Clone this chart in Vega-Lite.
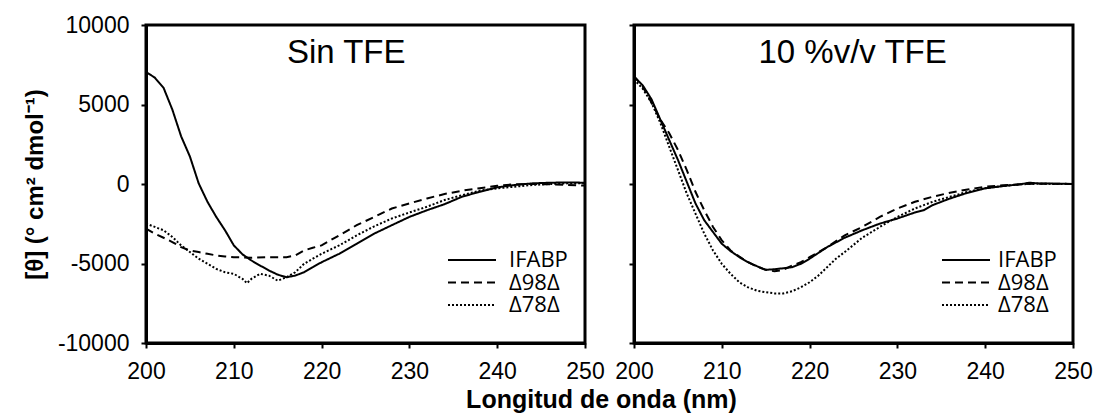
{
  "$schema": "https://vega.github.io/schema/vega-lite/v6.json",
  "background": "white",
  "padding": {"left": 21, "top": 12, "right": 5, "bottom": 5},
  "bounds": "flush",
  "spacing": 49,
  "config": {
    "view": {"stroke": "black", "strokeWidth": 3},
    "axis": {
      "domainColor": "black", "domainWidth": 3,
      "tickColor": "black", "tickWidth": 2, "tickSize": 5,
      "labelColor": "black", "labelFont": "Liberation Sans", "labelFontSize": 23,
      "labelPadding": 10,
      "titleFont": "Liberation Sans", "titleFontSize": 24, "titleColor": "black", "titleFontWeight": "bold",
      "grid": false, "labelFlush": false, "labelOverlap": false,
      "labelExpr": "datum.value + ''"
    },
    "axisY": {"labelPadding": 12},
    "axisX": {"labelPadding": 12},
    "legend": {
      "orient": "none", "title": null,
      "symbolType": "M-6,0H6", "symbolSize": 64, "symbolStrokeWidth": 2, "symbolStrokeColor": "black",
      "labelFont": "Open Sans", "labelFontSize": 22, "labelColor": "black",
      "rowPadding": 0.5
    }
  },
  "datasets": {
    "sin": [
      {"nm": 200, "theta": 7050, "serie": "IFABP"},
      {"nm": 201, "theta": 6690, "serie": "IFABP"},
      {"nm": 202, "theta": 6050, "serie": "IFABP"},
      {"nm": 203, "theta": 4680, "serie": "IFABP"},
      {"nm": 204, "theta": 3000, "serie": "IFABP"},
      {"nm": 205, "theta": 1730, "serie": "IFABP"},
      {"nm": 206, "theta": 40, "serie": "IFABP"},
      {"nm": 207, "theta": -1120, "serie": "IFABP"},
      {"nm": 208, "theta": -2070, "serie": "IFABP"},
      {"nm": 209, "theta": -2910, "serie": "IFABP"},
      {"nm": 210, "theta": -3860, "serie": "IFABP"},
      {"nm": 211, "theta": -4430, "serie": "IFABP"},
      {"nm": 212, "theta": -4810, "serie": "IFABP"},
      {"nm": 213, "theta": -5130, "serie": "IFABP"},
      {"nm": 214, "theta": -5440, "serie": "IFABP"},
      {"nm": 215, "theta": -5700, "serie": "IFABP"},
      {"nm": 216, "theta": -5865, "serie": "IFABP"},
      {"nm": 217, "theta": -5760, "serie": "IFABP"},
      {"nm": 218, "theta": -5550, "serie": "IFABP"},
      {"nm": 219, "theta": -5230, "serie": "IFABP"},
      {"nm": 220, "theta": -4920, "serie": "IFABP"},
      {"nm": 222, "theta": -4390, "serie": "IFABP"},
      {"nm": 224, "theta": -3760, "serie": "IFABP"},
      {"nm": 226, "theta": -3120, "serie": "IFABP"},
      {"nm": 228, "theta": -2590, "serie": "IFABP"},
      {"nm": 230, "theta": -2070, "serie": "IFABP"},
      {"nm": 232, "theta": -1650, "serie": "IFABP"},
      {"nm": 234, "theta": -1270, "serie": "IFABP"},
      {"nm": 236, "theta": -800, "serie": "IFABP"},
      {"nm": 238, "theta": -490, "serie": "IFABP"},
      {"nm": 240, "theta": -210, "serie": "IFABP"},
      {"nm": 242, "theta": -60, "serie": "IFABP"},
      {"nm": 244, "theta": 40, "serie": "IFABP"},
      {"nm": 246, "theta": 80, "serie": "IFABP"},
      {"nm": 248, "theta": 100, "serie": "IFABP"},
      {"nm": 250, "theta": 80, "serie": "IFABP"},
      {"nm": 200, "theta": -2800, "serie": "Δ98Δ"},
      {"nm": 201, "theta": -3120, "serie": "Δ98Δ"},
      {"nm": 202, "theta": -3380, "serie": "Δ98Δ"},
      {"nm": 203, "theta": -3650, "serie": "Δ98Δ"},
      {"nm": 204, "theta": -3970, "serie": "Δ98Δ"},
      {"nm": 205, "theta": -4180, "serie": "Δ98Δ"},
      {"nm": 206, "theta": -4280, "serie": "Δ98Δ"},
      {"nm": 207, "theta": -4390, "serie": "Δ98Δ"},
      {"nm": 208, "theta": -4490, "serie": "Δ98Δ"},
      {"nm": 209, "theta": -4560, "serie": "Δ98Δ"},
      {"nm": 210, "theta": -4600, "serie": "Δ98Δ"},
      {"nm": 212, "theta": -4640, "serie": "Δ98Δ"},
      {"nm": 214, "theta": -4600, "serie": "Δ98Δ"},
      {"nm": 216, "theta": -4600, "serie": "Δ98Δ"},
      {"nm": 217, "theta": -4490, "serie": "Δ98Δ"},
      {"nm": 218, "theta": -4180, "serie": "Δ98Δ"},
      {"nm": 219, "theta": -4010, "serie": "Δ98Δ"},
      {"nm": 220, "theta": -3860, "serie": "Δ98Δ"},
      {"nm": 222, "theta": -3230, "serie": "Δ98Δ"},
      {"nm": 224, "theta": -2590, "serie": "Δ98Δ"},
      {"nm": 226, "theta": -2070, "serie": "Δ98Δ"},
      {"nm": 228, "theta": -1540, "serie": "Δ98Δ"},
      {"nm": 230, "theta": -1220, "serie": "Δ98Δ"},
      {"nm": 232, "theta": -910, "serie": "Δ98Δ"},
      {"nm": 234, "theta": -630, "serie": "Δ98Δ"},
      {"nm": 236, "theta": -420, "serie": "Δ98Δ"},
      {"nm": 238, "theta": -270, "serie": "Δ98Δ"},
      {"nm": 240, "theta": -110, "serie": "Δ98Δ"},
      {"nm": 242, "theta": -20, "serie": "Δ98Δ"},
      {"nm": 244, "theta": 0, "serie": "Δ98Δ"},
      {"nm": 246, "theta": -20, "serie": "Δ98Δ"},
      {"nm": 248, "theta": -60, "serie": "Δ98Δ"},
      {"nm": 250, "theta": -100, "serie": "Δ98Δ"},
      {"nm": 200, "theta": -2490, "serie": "Δ78Δ"},
      {"nm": 201, "theta": -2700, "serie": "Δ78Δ"},
      {"nm": 202, "theta": -2910, "serie": "Δ78Δ"},
      {"nm": 203, "theta": -3330, "serie": "Δ78Δ"},
      {"nm": 204, "theta": -3860, "serie": "Δ78Δ"},
      {"nm": 205, "theta": -4280, "serie": "Δ78Δ"},
      {"nm": 206, "theta": -4700, "serie": "Δ78Δ"},
      {"nm": 207, "theta": -5020, "serie": "Δ78Δ"},
      {"nm": 208, "theta": -5340, "serie": "Δ78Δ"},
      {"nm": 209, "theta": -5550, "serie": "Δ78Δ"},
      {"nm": 210, "theta": -5650, "serie": "Δ78Δ"},
      {"nm": 211, "theta": -5970, "serie": "Δ78Δ"},
      {"nm": 211.5, "theta": -6240, "serie": "Δ78Δ"},
      {"nm": 212, "theta": -5970, "serie": "Δ78Δ"},
      {"nm": 213, "theta": -5650, "serie": "Δ78Δ"},
      {"nm": 214, "theta": -5760, "serie": "Δ78Δ"},
      {"nm": 215, "theta": -6080, "serie": "Δ78Δ"},
      {"nm": 216, "theta": -5865, "serie": "Δ78Δ"},
      {"nm": 217, "theta": -5550, "serie": "Δ78Δ"},
      {"nm": 218, "theta": -5020, "serie": "Δ78Δ"},
      {"nm": 219, "theta": -4700, "serie": "Δ78Δ"},
      {"nm": 220, "theta": -4390, "serie": "Δ78Δ"},
      {"nm": 222, "theta": -3860, "serie": "Δ78Δ"},
      {"nm": 224, "theta": -3230, "serie": "Δ78Δ"},
      {"nm": 226, "theta": -2660, "serie": "Δ78Δ"},
      {"nm": 228, "theta": -2170, "serie": "Δ78Δ"},
      {"nm": 230, "theta": -1790, "serie": "Δ78Δ"},
      {"nm": 232, "theta": -1430, "serie": "Δ78Δ"},
      {"nm": 234, "theta": -1010, "serie": "Δ78Δ"},
      {"nm": 236, "theta": -700, "serie": "Δ78Δ"},
      {"nm": 238, "theta": -420, "serie": "Δ78Δ"},
      {"nm": 240, "theta": -270, "serie": "Δ78Δ"},
      {"nm": 242, "theta": -170, "serie": "Δ78Δ"},
      {"nm": 244, "theta": -60, "serie": "Δ78Δ"},
      {"nm": 246, "theta": 0, "serie": "Δ78Δ"},
      {"nm": 248, "theta": 40, "serie": "Δ78Δ"},
      {"nm": 250, "theta": 40, "serie": "Δ78Δ"}
    ],
    "tfe": [
      {"nm": 200, "theta": 6750, "serie": "IFABP"},
      {"nm": 201, "theta": 6200, "serie": "IFABP"},
      {"nm": 202, "theta": 5320, "serie": "IFABP"},
      {"nm": 203, "theta": 4050, "serie": "IFABP"},
      {"nm": 204, "theta": 2780, "serie": "IFABP"},
      {"nm": 205, "theta": 1520, "serie": "IFABP"},
      {"nm": 206, "theta": 150, "serie": "IFABP"},
      {"nm": 207, "theta": -1220, "serie": "IFABP"},
      {"nm": 208, "theta": -2280, "serie": "IFABP"},
      {"nm": 209, "theta": -3020, "serie": "IFABP"},
      {"nm": 210, "theta": -3760, "serie": "IFABP"},
      {"nm": 211, "theta": -4220, "serie": "IFABP"},
      {"nm": 212, "theta": -4600, "serie": "IFABP"},
      {"nm": 213, "theta": -4920, "serie": "IFABP"},
      {"nm": 214, "theta": -5170, "serie": "IFABP"},
      {"nm": 215, "theta": -5400, "serie": "IFABP"},
      {"nm": 216, "theta": -5360, "serie": "IFABP"},
      {"nm": 217, "theta": -5300, "serie": "IFABP"},
      {"nm": 218, "theta": -5230, "serie": "IFABP"},
      {"nm": 219, "theta": -5020, "serie": "IFABP"},
      {"nm": 220, "theta": -4700, "serie": "IFABP"},
      {"nm": 222, "theta": -3970, "serie": "IFABP"},
      {"nm": 224, "theta": -3380, "serie": "IFABP"},
      {"nm": 226, "theta": -2910, "serie": "IFABP"},
      {"nm": 228, "theta": -2490, "serie": "IFABP"},
      {"nm": 230, "theta": -2170, "serie": "IFABP"},
      {"nm": 232, "theta": -1790, "serie": "IFABP"},
      {"nm": 233, "theta": -1650, "serie": "IFABP"},
      {"nm": 234, "theta": -1330, "serie": "IFABP"},
      {"nm": 236, "theta": -910, "serie": "IFABP"},
      {"nm": 238, "theta": -550, "serie": "IFABP"},
      {"nm": 240, "theta": -270, "serie": "IFABP"},
      {"nm": 242, "theta": -130, "serie": "IFABP"},
      {"nm": 244, "theta": -20, "serie": "IFABP"},
      {"nm": 245, "theta": 80, "serie": "IFABP"},
      {"nm": 246, "theta": 40, "serie": "IFABP"},
      {"nm": 248, "theta": 20, "serie": "IFABP"},
      {"nm": 250, "theta": 0, "serie": "IFABP"},
      {"nm": 200, "theta": 6790, "serie": "Δ98Δ"},
      {"nm": 201, "theta": 6120, "serie": "Δ98Δ"},
      {"nm": 202, "theta": 5110, "serie": "Δ98Δ"},
      {"nm": 203, "theta": 4050, "serie": "Δ98Δ"},
      {"nm": 204, "theta": 3210, "serie": "Δ98Δ"},
      {"nm": 205, "theta": 2150, "serie": "Δ98Δ"},
      {"nm": 206, "theta": 890, "serie": "Δ98Δ"},
      {"nm": 207, "theta": -490, "serie": "Δ98Δ"},
      {"nm": 208, "theta": -1650, "serie": "Δ98Δ"},
      {"nm": 209, "theta": -2700, "serie": "Δ98Δ"},
      {"nm": 210, "theta": -3540, "serie": "Δ98Δ"},
      {"nm": 211, "theta": -4180, "serie": "Δ98Δ"},
      {"nm": 212, "theta": -4560, "serie": "Δ98Δ"},
      {"nm": 213, "theta": -4920, "serie": "Δ98Δ"},
      {"nm": 214, "theta": -5190, "serie": "Δ98Δ"},
      {"nm": 215, "theta": -5400, "serie": "Δ98Δ"},
      {"nm": 216, "theta": -5490, "serie": "Δ98Δ"},
      {"nm": 217, "theta": -5400, "serie": "Δ98Δ"},
      {"nm": 218, "theta": -5130, "serie": "Δ98Δ"},
      {"nm": 219, "theta": -4920, "serie": "Δ98Δ"},
      {"nm": 220, "theta": -4600, "serie": "Δ98Δ"},
      {"nm": 222, "theta": -3970, "serie": "Δ98Δ"},
      {"nm": 224, "theta": -3230, "serie": "Δ98Δ"},
      {"nm": 226, "theta": -2700, "serie": "Δ98Δ"},
      {"nm": 228, "theta": -2070, "serie": "Δ98Δ"},
      {"nm": 230, "theta": -1540, "serie": "Δ98Δ"},
      {"nm": 232, "theta": -1120, "serie": "Δ98Δ"},
      {"nm": 234, "theta": -800, "serie": "Δ98Δ"},
      {"nm": 236, "theta": -550, "serie": "Δ98Δ"},
      {"nm": 238, "theta": -340, "serie": "Δ98Δ"},
      {"nm": 240, "theta": -170, "serie": "Δ98Δ"},
      {"nm": 242, "theta": -80, "serie": "Δ98Δ"},
      {"nm": 244, "theta": -20, "serie": "Δ98Δ"},
      {"nm": 246, "theta": 20, "serie": "Δ98Δ"},
      {"nm": 248, "theta": 20, "serie": "Δ98Δ"},
      {"nm": 250, "theta": 0, "serie": "Δ98Δ"},
      {"nm": 200, "theta": 6580, "serie": "Δ78Δ"},
      {"nm": 201, "theta": 5990, "serie": "Δ78Δ"},
      {"nm": 202, "theta": 5110, "serie": "Δ78Δ"},
      {"nm": 203, "theta": 3840, "serie": "Δ78Δ"},
      {"nm": 204, "theta": 2360, "serie": "Δ78Δ"},
      {"nm": 205, "theta": 890, "serie": "Δ78Δ"},
      {"nm": 206, "theta": -590, "serie": "Δ78Δ"},
      {"nm": 207, "theta": -1860, "serie": "Δ78Δ"},
      {"nm": 208, "theta": -3120, "serie": "Δ78Δ"},
      {"nm": 209, "theta": -4180, "serie": "Δ78Δ"},
      {"nm": 210, "theta": -5020, "serie": "Δ78Δ"},
      {"nm": 211, "theta": -5650, "serie": "Δ78Δ"},
      {"nm": 212, "theta": -6180, "serie": "Δ78Δ"},
      {"nm": 213, "theta": -6500, "serie": "Δ78Δ"},
      {"nm": 214, "theta": -6710, "serie": "Δ78Δ"},
      {"nm": 215, "theta": -6810, "serie": "Δ78Δ"},
      {"nm": 216, "theta": -6880, "serie": "Δ78Δ"},
      {"nm": 217, "theta": -6880, "serie": "Δ78Δ"},
      {"nm": 218, "theta": -6750, "serie": "Δ78Δ"},
      {"nm": 219, "theta": -6500, "serie": "Δ78Δ"},
      {"nm": 220, "theta": -6180, "serie": "Δ78Δ"},
      {"nm": 221, "theta": -5760, "serie": "Δ78Δ"},
      {"nm": 222, "theta": -5230, "serie": "Δ78Δ"},
      {"nm": 223, "theta": -4700, "serie": "Δ78Δ"},
      {"nm": 224, "theta": -4280, "serie": "Δ78Δ"},
      {"nm": 226, "theta": -3380, "serie": "Δ78Δ"},
      {"nm": 228, "theta": -2700, "serie": "Δ78Δ"},
      {"nm": 230, "theta": -2070, "serie": "Δ78Δ"},
      {"nm": 232, "theta": -1540, "serie": "Δ78Δ"},
      {"nm": 234, "theta": -1120, "serie": "Δ78Δ"},
      {"nm": 236, "theta": -800, "serie": "Δ78Δ"},
      {"nm": 238, "theta": -490, "serie": "Δ78Δ"},
      {"nm": 240, "theta": -270, "serie": "Δ78Δ"},
      {"nm": 242, "theta": -130, "serie": "Δ78Δ"},
      {"nm": 244, "theta": -20, "serie": "Δ78Δ"},
      {"nm": 246, "theta": 20, "serie": "Δ78Δ"},
      {"nm": 248, "theta": 0, "serie": "Δ78Δ"},
      {"nm": 250, "theta": 0, "serie": "Δ78Δ"}
    ]
  },
  "resolve": {"scale": {"strokeDash": "independent"}, "legend": {"strokeDash": "independent"}},
  "hconcat": [
    {
      "width": 439,
      "height": 318,
      "layer": [
        {
          "data": {"name": "sin"},
          "mark": {"type": "line", "color": "black", "strokeWidth": 2},
          "encoding": {
            "x": {"field": "nm", "type": "quantitative",
                  "scale": {"domain": [200, 250], "nice": false, "zero": false},
                  "axis": {"values": [200, 210, 220, 230, 240, 250], "title": "Longitud de onda (nm)", "titleFontSize": 25, "titleX": 455, "titleY": 64, "titleBaseline": "alphabetic"}},
            "y": {"field": "theta", "type": "quantitative",
                  "scale": {"domain": [-10000, 10000], "nice": false, "zero": false},
                  "axis": {"values": [-10000, -5000, 0, 5000, 10000], "title": "[θ] (° cm² dmol⁻¹)", "titlePadding": 10}},
            "strokeDash": {"field": "serie", "type": "nominal",
                  "scale": {"domain": ["IFABP", "Δ98Δ", "Δ78Δ"], "range": [[1, 0], [8, 5], [2, 2]]},
                  "legend": {"legendX": 315, "legendY": 224, "labelOffset": 26}}
          }
        },
        {
          "data": {"values": [{}]},
          "mark": {"type": "text", "font": "Liberation Sans", "fontSize": 33, "color": "black", "align": "center", "baseline": "alphabetic"},
          "encoding": {
            "x": {"datum": 222.8, "type": "quantitative"},
            "y": {"datum": 7610, "type": "quantitative"},
            "text": {"value": "Sin TFE"}
          }
        }
      ]
    },
    {
      "width": 439,
      "height": 318,
      "layer": [
        {
          "data": {"name": "tfe"},
          "mark": {"type": "line", "color": "black", "strokeWidth": 2},
          "encoding": {
            "x": {"field": "nm", "type": "quantitative",
                  "scale": {"domain": [200, 250], "nice": false, "zero": false},
                  "axis": {"values": [200, 210, 220, 230, 240, 250], "title": null}},
            "y": {"field": "theta", "type": "quantitative",
                  "scale": {"domain": [-10000, 10000], "nice": false, "zero": false},
                  "axis": {"values": [-10000, -5000, 0, 5000, 10000], "title": null, "labels": false}},
            "strokeDash": {"field": "serie", "type": "nominal",
                  "scale": {"domain": ["IFABP", "Δ98Δ", "Δ78Δ"], "range": [[1, 0], [8, 5], [2, 2]]},
                  "legend": {"legendX": 321, "legendY": 224, "labelOffset": 21}}
          }
        },
        {
          "data": {"values": [{}]},
          "mark": {"type": "text", "font": "Liberation Sans", "fontSize": 33, "color": "black", "align": "center", "baseline": "alphabetic"},
          "encoding": {
            "x": {"datum": 224.9, "type": "quantitative"},
            "y": {"datum": 7610, "type": "quantitative"},
            "text": {"value": "10 %v/v TFE"}
          }
        }
      ]
    }
  ]
}
